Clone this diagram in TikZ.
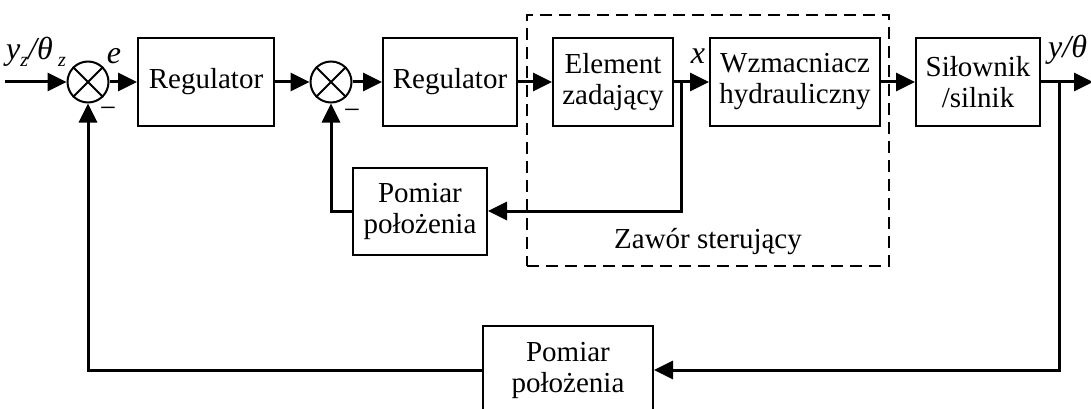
\documentclass[tikz,border=0pt]{standalone}
\usepackage{fontspec}
\setmainfont{Liberation Serif}
\usetikzlibrary{arrows.meta,calc}
% lowered small subscript for the signal labels
\newcommand{\sigsub}[1]{\raisebox{-7pt}{\fontsize{20}{20}\selectfont #1}}
\begin{document}
\begin{tikzpicture}[x=1pt,y=-1pt,
  txt/.style={font=\fontsize{29}{31}\selectfont},
  blk/.style={draw,line width=2pt,minimum height=88pt,align=center,inner sep=0pt,txt},
  sumj/.style={draw,circle,line width=2pt,minimum size=41pt,inner sep=0pt},
  sig/.style={line width=3pt,-{Triangle[length=19pt,width=18pt]}},
  lbl/.style={font=\fontsize{32}{34}\selectfont\itshape,inner sep=0pt},
  group/.style={draw,dashed,line width=1.5pt,dash pattern=on 12pt off 7pt},
]
\useasboundingbox (0,0) rectangle (1091,409);

% valve group frame
\node[group,minimum width=362pt,minimum height=251pt,inner sep=0pt] (valve) at (708,140.5) {};
\node[txt,inner sep=0pt] (valvetxt) at (708,242) {Zawór sterujący};

% summing junctions
\node[sumj] (s1) at (88,82) {};
\draw[line width=2pt] (s1.north west) -- (s1.south east) (s1.north east) -- (s1.south west);
\node[sumj] (s2) at (331,82) {};
\draw[line width=2pt] (s2.north west) -- (s2.south east) (s2.north east) -- (s2.south west);

% blocks of the forward path
\node[blk,minimum width=136pt] (reg1) at (206,82) {Regulator};
\node[blk,minimum width=134pt] (reg2) at (450,82) {Regulator};
\node[blk,minimum width=120pt] (elem) at (613,82) {Element\\zadający};
\node[blk,minimum width=170pt] (amp) at (795,82) {Wzmacniacz\\hydrauliczny};
\node[blk,minimum width=124pt] (act) at (978,82) {Siłownik\\/silnik};

% measurement blocks
\node[blk,minimum width=134pt,minimum height=87pt] (meas1) at (420,211) {Pomiar\\położenia};
\node[blk,minimum width=170pt] (meas2) at (568,370) {Pomiar\\położenia};

% free ends and branch points
\coordinate (in) at (5,82);
\coordinate (out) at (1093,82);
\coordinate (bx) at (681,82);
\coordinate (by) at (1059,82);

% forward path
\draw[sig] (in) -- (s1.west);
\draw[sig] (s1.east) -- (reg1.west);
\draw[sig] (reg1.east) -- (s2.west);
\draw[sig] (s2.east) -- (reg2.west);
\draw[sig] (reg2.east) -- (elem.west);
\draw[sig] (elem.east) -- (amp.west);
\draw[sig] (amp.east) -- (act.west);
\draw[sig] (act.east) -- (out);

% inner position loop
\draw[sig] (bx) |- (meas1.east);
\draw[sig] (meas1.west) -| (s2.south);

% outer position loop
\draw[sig] (by) |- (meas2.east);
\draw[sig] (meas2.west) -| (s1.south);

% signal labels
\node[lbl,anchor=base west] (ref) at (6,60) {y\sigsub{z}/θ\,\sigsub{z}};
\node[lbl,anchor=base] (err) at (114,64) {e};
\node[lbl,anchor=base] (xs) at (698,64) {x};
\node[lbl,anchor=base west] (ys) at (1048,58) {y/θ};
\node[txt,inner sep=0pt] (m1) at (108,112) {−};
\node[txt,inner sep=0pt] (m2) at (352,114) {−};
\end{tikzpicture}
\end{document}
